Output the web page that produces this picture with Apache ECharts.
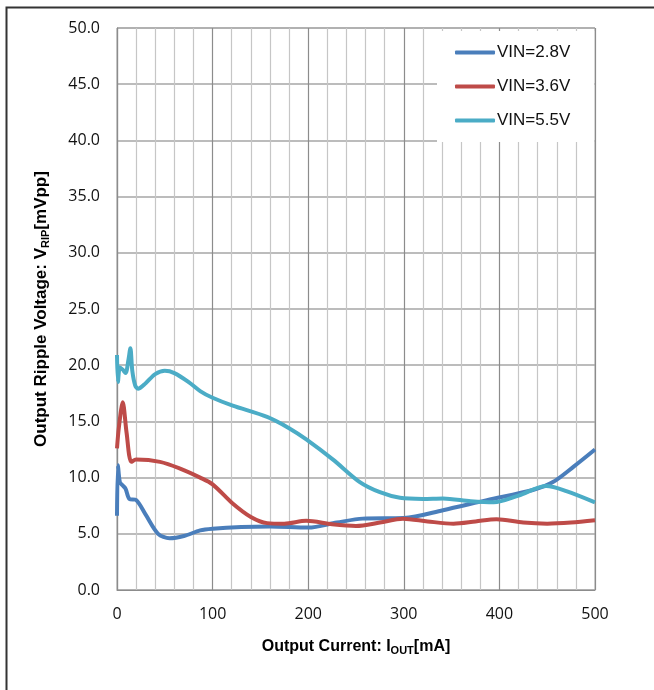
<!DOCTYPE html>
<html>
<head>
    <meta charset="UTF-8">
    <title>Output Ripple Voltage vs Output Current</title>
    <script src="https://cdn.jsdelivr.net/npm/echarts@6/dist/echarts.min.js"></script>
    <style>
        body { margin: 0; background: #fff; }
    </style>
</head>
<body>
<div id="chart" style="width:654px; height:690px;"></div>
<script>
    // [Iout mA, Vrip mVpp]
    var vin28 = [[0, 6.6], [1, 11.1], [3, 9.6], [6, 9.3], [9, 9.0], [13, 8.1], [20, 8.0], [30, 6.7],
        [43, 5.0], [55, 4.6], [70, 4.8], [87, 5.3], [100, 5.45], [130, 5.6], [160, 5.65], [200, 5.55],
        [230, 6.0], [257, 6.35], [300, 6.4], [341, 7.1], [387, 8.0], [435, 8.9], [456, 9.6],
        [478, 11.0], [500, 12.5]];
    var vin36 = [[0, 12.6], [2, 14.5], [6, 16.7], [10, 14.0], [15, 11.4], [20, 11.6], [45, 11.4],
        [66, 10.8], [87, 10.0], [100, 9.4], [121, 7.7], [140, 6.5], [157, 5.95], [175, 5.9],
        [198, 6.15], [225, 5.85], [250, 5.7], [275, 6.0], [299, 6.35], [325, 6.1], [352, 5.9],
        [375, 6.1], [397, 6.3], [425, 6.0], [450, 5.9], [475, 6.0], [500, 6.2]];
    var vin55 = [[0, 20.9], [1, 18.5], [3, 19.8], [6, 19.6], [9, 19.3], [12, 20.5], [14, 21.5],
        [16, 19.5], [19, 18.2], [22, 17.9], [30, 18.4], [40, 19.2], [50, 19.5], [60, 19.3],
        [75, 18.5], [87, 17.7], [100, 17.1], [121, 16.4], [157, 15.4], [180, 14.4], [198, 13.4],
        [226, 11.6], [254, 9.6], [275, 8.7], [296, 8.2], [320, 8.1], [341, 8.15], [370, 7.9],
        [394, 7.8], [420, 8.4], [449, 9.25], [470, 8.8], [500, 7.8]];
    var seriesNames = ['VIN=2.8V', 'VIN=3.6V', 'VIN=5.5V'];
    var seriesColors = ['#4a7ebb', '#be4b48', '#4bacc6'];

    var chart = echarts.init(document.getElementById('chart'), null, {renderer: 'canvas'});
    var font = '"Liberation Sans", Arial, sans-serif';
    var tickFont = '"Open Sans", sans-serif';

    function line(name, data, color) {
        return {
            name: name,
            type: 'line',
            data: data,
            smooth: 0.3,
            showSymbol: false,
            lineStyle: {color: color, width: 4},
            itemStyle: {color: color}
        };
    }

    var option = {
        backgroundColor: '#fff',
        animation: false,
        textStyle: {fontFamily: font},
        graphic: [{
            // outer frame (only top and left edges are visible)
            type: 'rect',
            left: 4, top: 5,
            shape: {width: 900, height: 900},
            style: {fill: 'none', stroke: '#333', lineWidth: 2}
        }],
        grid: {
            left: 117, right: 59, top: 28, bottom: 100,
            show: true, borderColor: '#a6a6a6', borderWidth: 1
        },
        legend: {
            orient: 'vertical',
            left: 437, top: 31,
            padding: [13, 24, 13, 18],
            backgroundColor: '#fff',
            itemWidth: 40, itemHeight: 4,
            itemGap: 17,
            icon: 'roundRect',
            textStyle: {fontSize: 17, color: '#111', fontFamily: font, padding: [0, 0, 0, -3]},
            data: seriesNames
        },
        xAxis: {
            type: 'value',
            min: 0, max: 500, interval: 100,
            name: '{a|Output Current: I}{s|OUT}{a|[mA]}',
            nameLocation: 'middle',
            nameGap: 47,
            nameTextStyle: {
                rich: {
                    a: {fontSize: 16, fontWeight: 'bold', color: '#000', lineHeight: 19, fontFamily: font},
                    s: {fontSize: 11, fontWeight: 'bold', color: '#000', lineHeight: 11, verticalAlign: 'bottom', fontFamily: font}
                }
            },
            axisLine: {lineStyle: {color: '#8c8c8c', width: 1}},
            axisTick: {show: false},
            axisLabel: {fontSize: 16, color: '#111', margin: 16, fontFamily: tickFont},
            splitLine: {show: true, lineStyle: {color: '#8c8c8c', width: 1.2}},
            minorTick: {show: false, splitNumber: 5},
            minorSplitLine: {show: true, lineStyle: {color: '#c6c6c6', width: 1.2}}
        },
        yAxis: {
            type: 'value',
            min: 0, max: 50, interval: 5,
            name: '{a|Output Ripple Voltage: V}{s|RIP}{a|[mVpp]}',
            nameLocation: 'middle',
            nameGap: 66,
            nameTextStyle: {
                rich: {
                    a: {fontSize: 17, fontWeight: 'bold', color: '#000', lineHeight: 20, fontFamily: font},
                    s: {fontSize: 11, fontWeight: 'bold', color: '#000', lineHeight: 11, verticalAlign: 'bottom', fontFamily: font}
                }
            },
            axisLine: {show: true, lineStyle: {color: '#8c8c8c', width: 1.2}},
            axisTick: {show: false},
            axisLabel: {
                fontSize: 16, color: '#111', margin: 17, fontFamily: tickFont,
                formatter: function (v) { return v.toFixed(1); }
            },
            splitLine: {show: true, lineStyle: {color: '#a6a6a6', width: 1.5}}
        },
        series: [
            line(seriesNames[0], vin28, seriesColors[0]),
            line(seriesNames[1], vin36, seriesColors[1]),
            line(seriesNames[2], vin55, seriesColors[2])
        ]
    };
    chart.setOption(option);
</script>
</body>
</html>
